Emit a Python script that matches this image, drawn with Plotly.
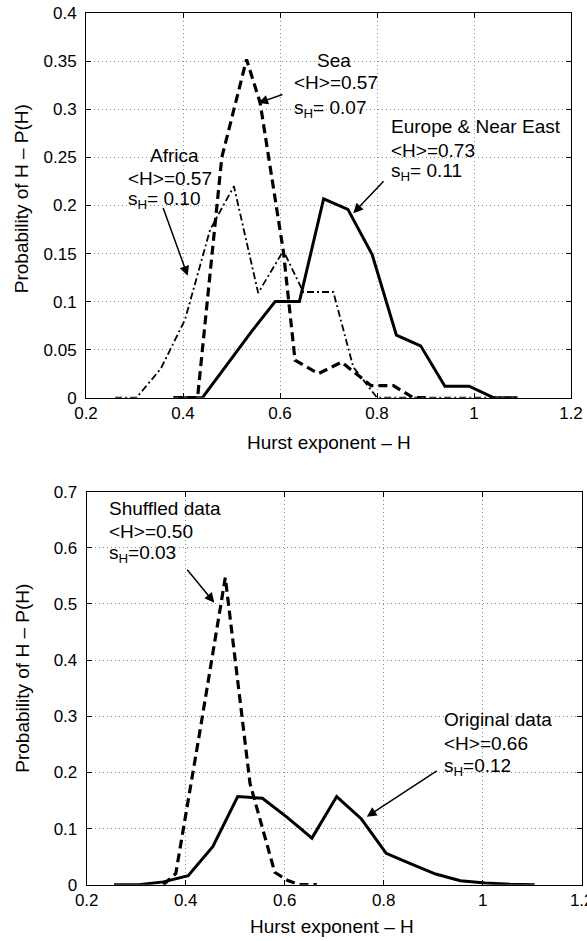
import plotly.graph_objects as go

# ---------------- data (top panel) ----------------
europe_h = [0.39, 0.44, 0.49, 0.54, 0.59, 0.64, 0.69, 0.74, 0.79, 0.84, 0.89, 0.94, 0.99, 1.04, 1.09]
europe_p = [0.0, 0.0, 0.034, 0.068, 0.100, 0.100, 0.207, 0.196, 0.149, 0.065, 0.054, 0.012, 0.012, 0.0, 0.0]

sea_h = [0.38, 0.43, 0.48, 0.531, 0.559, 0.607, 0.631, 0.679, 0.727, 0.788, 0.834, 0.875, 0.90]
sea_p = [0.0, 0.0, 0.25, 0.352, 0.307, 0.152, 0.039, 0.025, 0.037, 0.0125, 0.0125, 0.0, 0.0]

africa_h = [0.26, 0.304, 0.354, 0.404, 0.456, 0.505, 0.555, 0.607, 0.648, 0.71, 0.751, 0.80, 1.09]
africa_p = [0.0, 0.0, 0.03, 0.081, 0.175, 0.22, 0.109, 0.153, 0.11, 0.11, 0.032, 0.0, 0.0]

# ---------------- data (bottom panel) ----------------
original_h = [0.255, 0.305, 0.355, 0.405, 0.455, 0.505, 0.555, 0.605, 0.655, 0.705,
              0.755, 0.805, 0.855, 0.905, 0.955, 1.005, 1.055, 1.105]
original_p = [0.0, 0.0, 0.005, 0.016, 0.068, 0.157, 0.154, 0.12, 0.083, 0.157,
              0.117, 0.056, 0.037, 0.019, 0.007, 0.003, 0.001, 0.0]

shuffled_h = [0.355, 0.38, 0.43, 0.48, 0.53, 0.58, 0.605, 0.63, 0.665]
shuffled_p = [0.0, 0.02, 0.28, 0.547, 0.18, 0.022, 0.008, 0.0, 0.0]

x_ticks = [0.2, 0.4, 0.6, 0.8, 1.0, 1.2]
y_ticks_top = [0, 0.05, 0.1, 0.15, 0.2, 0.25, 0.3, 0.35, 0.4]
y_ticks_bottom = [0, 0.1, 0.2, 0.3, 0.4, 0.5, 0.6, 0.7]

x_title = "Hurst exponent \u2013 H"
y_title = "Probability of H \u2013 P(H)"

FONT = "Liberation Sans, Arial, Helvetica, sans-serif"
TICK_SIZE = 17
TEXT_SIZE = 19

W, H = 587, 941


def px_x(p):
    return p / W


def px_y(p):
    return 1 - p / H


fig = go.Figure()

fig.add_trace(go.Scatter(x=africa_h, y=africa_p, mode="lines", xaxis="x", yaxis="y",
                         line=dict(color="black", width=1.8, dash="7px,3px,2px,3px")))
fig.add_trace(go.Scatter(x=sea_h, y=sea_p, mode="lines", xaxis="x", yaxis="y",
                         line=dict(color="black", width=3.2, dash="9px,5px")))
fig.add_trace(go.Scatter(x=europe_h, y=europe_p, mode="lines", xaxis="x", yaxis="y",
                         line=dict(color="black", width=3)))

fig.add_trace(go.Scatter(x=shuffled_h, y=shuffled_p, mode="lines", xaxis="x2", yaxis="y2",
                         line=dict(color="black", width=3.2, dash="9px,5px")))
fig.add_trace(go.Scatter(x=original_h, y=original_p, mode="lines", xaxis="x2", yaxis="y2",
                         line=dict(color="black", width=3)))

axis_common = dict(
    showline=True, linecolor="black", linewidth=1, mirror="ticks",
    ticks="inside", ticklen=5, tickcolor="black", tickwidth=1,
    showgrid=True, gridcolor="#8a8a8a", gridwidth=1, griddash="1px,3px",
    zeroline=False, tickfont=dict(family=FONT, size=TICK_SIZE, color="black"),
    fixedrange=True, automargin=False, ticklabeloverflow="allow",
)

fig.update_layout(
    width=W, height=H,
    margin=dict(l=0, r=0, t=0, b=0, pad=0),
    paper_bgcolor="white", plot_bgcolor="white",
    showlegend=False,
    xaxis=dict(domain=[px_x(86), px_x(571)], range=[0.2, 1.2], tickvals=x_ticks,
               anchor="y", **axis_common),
    yaxis=dict(domain=[px_y(397.7), px_y(13.3)], range=[0, 0.4], tickvals=y_ticks_top,
               anchor="x", ticklabelstandoff=5, **axis_common),
    xaxis2=dict(domain=[px_x(86.7), px_x(581.7)], range=[0.2, 1.2], tickvals=x_ticks,
                anchor="y2", **axis_common),
    yaxis2=dict(domain=[px_y(884.7), px_y(491.7)], range=[0, 0.7], tickvals=y_ticks_bottom,
                anchor="x2", ticklabelstandoff=5, **axis_common),
)


def label(text, x, y, xr, yr):
    fig.add_annotation(text=text, x=x, y=y, xref=xr, yref=yr, xanchor="left", yanchor="middle",
                       showarrow=False, font=dict(family=FONT, size=TEXT_SIZE, color="black"))


def arrow(x_head, y_head, x_tail, y_tail, xr, yr):
    fig.add_annotation(text="", x=x_head, y=y_head, ax=x_tail, ay=y_tail, xref=xr, yref=yr,
                       axref=xr, ayref=yr, showarrow=True, arrowhead=2, arrowsize=1.3,
                       arrowwidth=1.5, arrowcolor="black", standoff=0, startstandoff=0)


# top panel labels
label("Sea", 0.672, 0.351, "x", "y")
label("&lt;H&gt;=0.57", 0.625, 0.328, "x", "y")
label("s<sub>H</sub>= 0.07", 0.625, 0.300, "x", "y")
arrow(0.5553, 0.3067, 0.6082, 0.316, "x", "y")

label("Africa", 0.328, 0.252, "x", "y")
label("&lt;H&gt;=0.57", 0.282, 0.2285, "x", "y")
label("s<sub>H</sub>= 0.10", 0.282, 0.206, "x", "y")
arrow(0.4097, 0.1268, 0.358, 0.199, "x", "y")

label("Europe &amp; Near East", 0.8254, 0.2823, "x", "y")
label("&lt;H&gt;=0.73", 0.8254, 0.2572, "x", "y")
label("s<sub>H</sub>= 0.11", 0.8254, 0.235, "x", "y")
arrow(0.7512, 0.192, 0.8165, 0.2268, "x", "y")

# bottom panel labels
label("Shuffled data", 0.2404, 0.6705, "x2", "y2")
label("&lt;H&gt;=0.50", 0.2404, 0.6288, "x2", "y2")
label("s<sub>H</sub>=0.03", 0.2404, 0.589, "x2", "y2")
arrow(0.4578, 0.5023, 0.4006, 0.5636, "x2", "y2")

label("Original data", 0.9172, 0.2934, "x2", "y2")
label("&lt;H&gt;=0.66", 0.9172, 0.2519, "x2", "y2")
label("s<sub>H</sub>=0.12", 0.9172, 0.2105, "x2", "y2")
arrow(0.7657, 0.1211, 0.9103, 0.2043, "x2", "y2")


# axis titles
def title(text, x_px, y_px, angle=0):
    fig.add_annotation(text=text, x=px_x(x_px), y=px_y(y_px), xref="paper", yref="paper",
                       xanchor="center", yanchor="middle", showarrow=False, textangle=angle,
                       font=dict(family=FONT, size=TEXT_SIZE, color="black"))


title(x_title, 328.5, 442)
title(x_title, 332.2, 926)
title(y_title, 21.7, 198.5, -90)
title(y_title, 21.7, 678, -90)

# remove the default page margin so the 587x941 figure fills the window exactly
fig.write_html("out.html", config={"displayModeBar": False},
               post_script="document.body.style.margin='0';")
